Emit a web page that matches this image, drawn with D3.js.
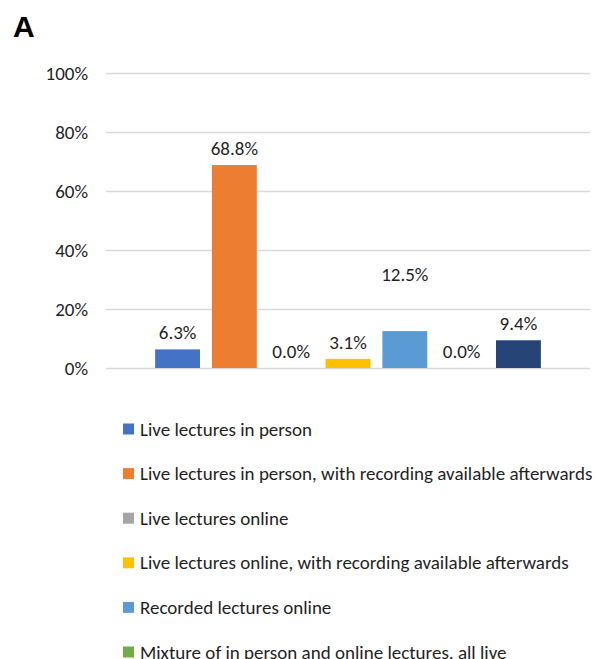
<!DOCTYPE html>
<html lang="en">
<head>
<meta charset="UTF-8">
<title>Lecture format preference</title>
<script src="https://cdnjs.cloudflare.com/ajax/libs/d3/7.8.5/d3.min.js"></script>
<style>
    html, body { margin: 0; padding: 0; background: #fff; overflow: hidden; }
    svg { display: block; }
    .txt { font-family: Carlito, Calibri, Lato, sans-serif; fill: #1f1f1f; }
</style>
</head>
<body>
<svg id="chart" width="597" height="659"></svg>
<script>
// data
const formats = [
    "Live lectures in person",
    "Live lectures in person, with recording available afterwards",
    "Live lectures online",
    "Live lectures online, with recording available afterwards",
    "Recorded lectures online",
    "Mixture of in person and online lectures, all live",
    "Mixture of in person and online lectures, with recording available afterwards"
];
const shares = [6.3, 68.8, 0.0, 3.1, 12.5, 0.0, 9.4];
const yTicks = [0, 20, 40, 60, 80, 100];
const colours = ["#4472C4", "#ED7D31", "#A5A5A5", "#FFC000", "#5B9BD5", "#70AD47", "#264478"];

const svg = d3.select("#chart");
const fs = 19;

// panel letter
svg.append("text")
    .attr("x", 13).attr("y", 37)
    .attr("font-family", "'Liberation Sans', Arial, sans-serif")
    .attr("font-weight", "bold")
    .attr("font-size", 30)
    .attr("fill", "#000")
    .text("A");

const x = d3.scaleBand()
    .domain(formats)
    .range([106, 590])
    .paddingInner(0.21)
    .paddingOuter(0.865);
const y = d3.scaleLinear().domain([0, 100]).range([368, 73]);
const colour = d3.scaleOrdinal().domain(formats).range(colours);

// gridlines + tick labels
const yAxis = svg.append("g")
    .attr("transform", "translate(106,0)")
    .call(d3.axisLeft(y).tickValues(yTicks).tickSize(-484).tickPadding(18).tickFormat(d => d + "%"));
yAxis.select(".domain").remove();
yAxis.selectAll(".tick line").attr("stroke", "#d9d9d9").attr("stroke-width", 1.3);
yAxis.selectAll(".tick text")
    .attr("class", "txt")
    .attr("font-size", fs)
    .attr("fill", "#1f1f1f");

// bars
svg.append("g").selectAll("rect")
    .data(shares)
    .join("rect")
    .attr("x", (d, i) => x(formats[i]))
    .attr("y", d => y(d))
    .attr("width", x.bandwidth())
    .attr("height", d => y(0) - y(d))
    .attr("fill", (d, i) => colour(formats[i]));

// value labels (Excel pushed the 12.5% one further up)
const lifted = "Recorded lectures online";
svg.append("g").selectAll("text")
    .data(shares)
    .join("text")
    .attr("class", "txt")
    .attr("font-size", fs)
    .attr("text-anchor", "middle")
    .attr("x", (d, i) => x(formats[i]) + x.bandwidth() / 2)
    .attr("y", (d, i) => y(d) - 17 - (formats[i] === lifted ? 40 : 0))
    .attr("dy", "0.35em")
    .text(d => d.toFixed(1) + "%");

// legend
const legend = svg.append("g").selectAll("g")
    .data(formats)
    .join("g")
    .attr("transform", (d, i) => `translate(123,${429 + i * 44.6})`);
legend.append("rect")
    .attr("y", -5.5)
    .attr("width", 11).attr("height", 11)
    .attr("fill", d => colour(d));
legend.append("text")
    .attr("class", "txt")
    .attr("font-size", fs)
    .attr("x", 17)
    .attr("dy", "0.35em")
    .text(d => d);
</script>
</body>
</html>
